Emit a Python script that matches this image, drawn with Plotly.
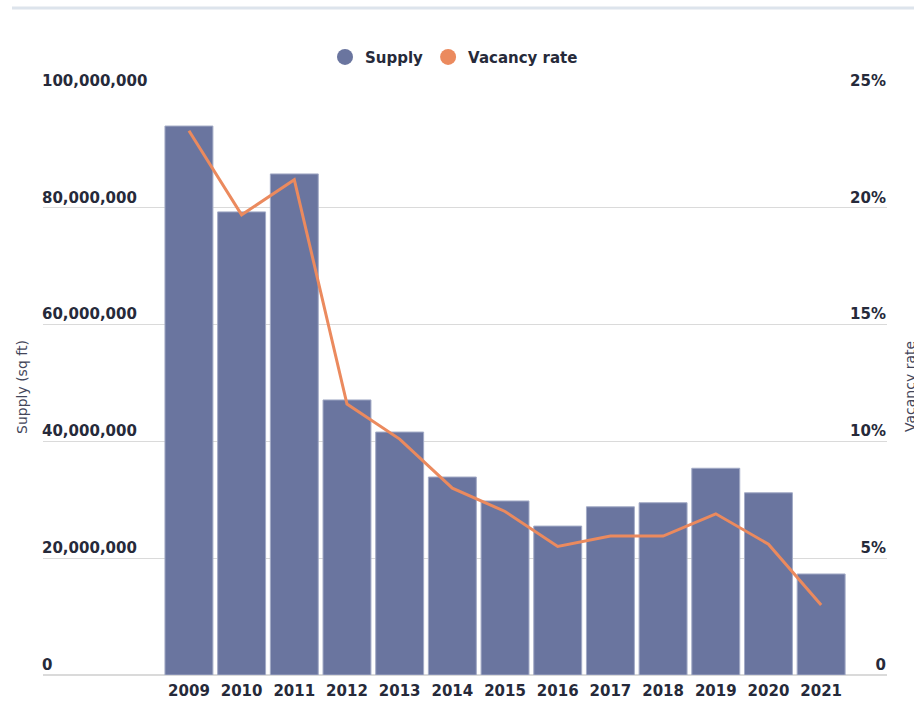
import plotly.graph_objects as go

years = ["2009", "2010", "2011", "2012", "2013", "2014", "2015",
         "2016", "2017", "2018", "2019", "2020", "2021"]
supply = [94.0e6, 79.3e6, 85.8e6, 47.1e6, 41.6e6, 33.9e6, 29.8e6,
          25.5e6, 28.8e6, 29.5e6, 35.4e6, 31.2e6, 17.3e6]
vacancy = [23.3, 19.7, 21.2, 11.6, 10.1, 8.0, 7.0, 5.5, 5.95, 5.95, 6.9, 5.6, 3.0]
rate_ticks = [0, 5, 10, 15, 20, 25]
rate_labels = ["0", "5%", "10%", "15%", "20%", "25%"]

BAR = "#6a759f"
LINE = "#eb8a5e"
TXT = "#262a3a"
FONT = "DejaVu Sans"

fig = go.Figure()
fig.add_trace(go.Bar(x=years, y=supply, marker=dict(color=BAR, line=dict(color="#a3abc6", width=1)),
                     showlegend=False, name="Supply"))
fig.add_trace(go.Scatter(x=years, y=vacancy, yaxis="y2", mode="lines",
                         line=dict(color=LINE, width=3), showlegend=False, name="Vacancy rate"))
# legend entries
fig.add_trace(go.Scatter(x=[None], y=[None], mode="markers", name="Supply",
                         marker=dict(color=BAR, size=18, symbol="circle")))
fig.add_trace(go.Scatter(x=[None], y=[None], mode="markers", name="Vacancy rate",
                         marker=dict(color=LINE, size=18, symbol="circle")))

fig.update_layout(
    width=914, height=701,
    margin=dict(l=43, r=27, t=91, b=26),
    paper_bgcolor="white", plot_bgcolor="white",
    font=dict(family=FONT, color=TXT),
    bargap=0.09,
    legend=dict(orientation="h", x=0.5 - 11 / 844, xanchor="center", y=1.058, yanchor="middle",
                font=dict(family=FONT, size=15, color=TXT, weight="bold"),
                itemsizing="trace"),
    xaxis=dict(range=[-2.77, 13.25], showgrid=False, showline=False, ticks="",
               tickfont=dict(family=FONT, size=15, color=TXT, weight="bold"),
               zeroline=False, automargin=False, ticklabelstandoff=5),
    yaxis=dict(range=[0, 100e6], dtick=20e6, tickformat=",d", showgrid=True,
               gridcolor="#dadada", gridwidth=1, zeroline=True, zerolinecolor="#dadada",
               ticks="", ticklabelposition="inside top", ticklabeloverflow="allow",
               tickfont=dict(family=FONT, size=15, color=TXT, weight="bold"),
               showline=False, automargin=False, ticklabelstandoff=-4),
    yaxis2=dict(range=[0, 25], tickvals=rate_ticks, ticktext=rate_labels,
                overlaying="y", side="right",
                showgrid=False, zeroline=False, ticks="", ticklabelposition="inside top",
                ticklabeloverflow="allow",
                tickfont=dict(family=FONT, size=15, color=TXT, weight="bold"),
                showline=False, automargin=False, ticklabelstandoff=-2),
    shapes=[dict(type="line", xref="paper", yref="paper", x0=(12 - 43) / 844, x1=1.04,
                 y0=(675 - 8) / 584, y1=(675 - 8) / 584, line=dict(color="#dde4ec", width=3))],
    annotations=[
        dict(text="Supply (sq ft)", xref="paper", yref="paper", x=(22 - 43) / 844, y=(675 - 387) / 584,
             showarrow=False, textangle=-90, xanchor="center", yanchor="middle",
             font=dict(family=FONT, size=14, color="#43465a")),
        dict(text="Vacancy rate", xref="paper", yref="paper", x=(910 - 43) / 844, y=(675 - 387) / 584,
             showarrow=False, textangle=-90, xanchor="center", yanchor="middle",
             font=dict(family=FONT, size=14, color="#43465a")),
    ],
)

fig.write_html("out.html")
